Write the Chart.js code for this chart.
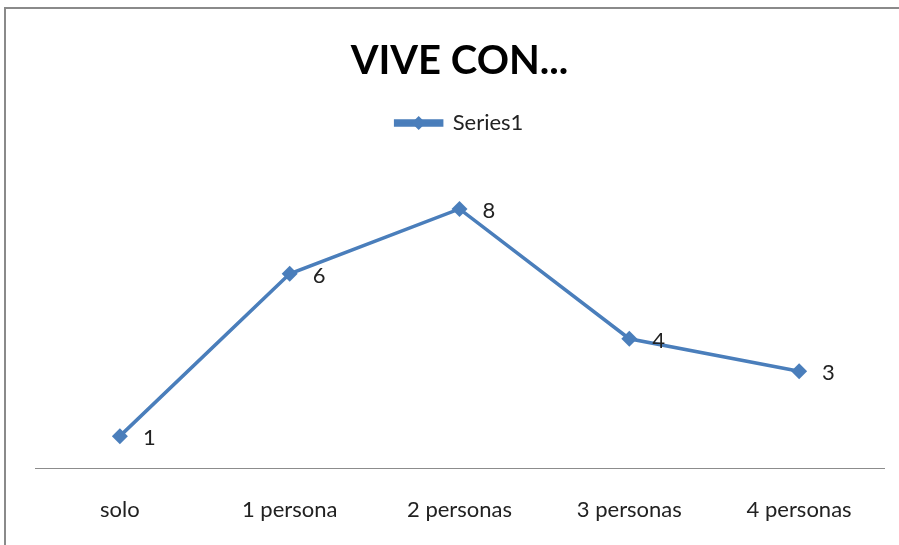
<!DOCTYPE html>
<html>
<head>
<meta charset="utf-8">
<title>VIVE CON...</title>
<script src="https://cdn.jsdelivr.net/npm/chart.js@4/dist/chart.umd.min.js"></script>
<style>
    html, body { margin: 0; padding: 0; background: #fff; }
    #wrap { position: relative; width: 899px; height: 545px; overflow: hidden; }
    #frame {
        position: absolute; left: 4px; top: 7px; width: 900px; height: 545px;
        border-left: 2px solid #8a8a8a; border-top: 2px solid #8a8a8a;
    }
    canvas { position: absolute; left: 0; top: 0; }
</style>
</head>
<body>
<div id="wrap">
    <div id="frame"></div>
    <canvas id="chart" width="899" height="545"></canvas>
</div>
<script>
// data
const categories = ['solo', '1 persona', '2 personas', '3 personas', '4 personas'];
const seriesName = 'Series1';
const seriesValues = [1, 6, 8, 4, 3];

const lineBlue = '#4a7ebb';
const fontFamily = 'Lato, "Open Sans", sans-serif';

// draws the value next to each point, like Excel's data labels
const valueLabels = {
    id: 'valueLabels',
    afterDatasetsDraw(chart) {
        const ctx = chart.ctx;
        const meta = chart.getDatasetMeta(0);
        ctx.save();
        ctx.font = '22px ' + fontFamily;
        ctx.fillStyle = '#222';
        ctx.textAlign = 'left';
        ctx.textBaseline = 'middle';
        meta.data.forEach((pt, i) => {
            ctx.fillText(String(seriesValues[i]), pt.x + 23, pt.y + 2);
        });
        ctx.restore();
    }
};

// puts a diamond on the legend line sample
const legendDiamond = {
    id: 'legendDiamond',
    afterDraw(chart) {
        const legend = chart.legend;
        if (!legend || !legend.legendHitBoxes) return;
        const ctx = chart.ctx;
        const boxW = legend.options.labels.boxWidth;
        legend.legendHitBoxes.forEach((hb) => {
            const cx = hb.left + boxW / 2;
            const cy = hb.top + hb.height / 2;
            const r = 7;
            ctx.save();
            ctx.fillStyle = lineBlue;
            ctx.beginPath();
            ctx.moveTo(cx, cy - r);
            ctx.lineTo(cx + r, cy);
            ctx.lineTo(cx, cy + r);
            ctx.lineTo(cx - r, cy);
            ctx.closePath();
            ctx.fill();
            ctx.restore();
        });
    }
};

new Chart(document.getElementById('chart'), {
    type: 'line',
    data: {
        labels: categories,
        datasets: [{
            label: seriesName,
            data: seriesValues,
            borderColor: lineBlue,
            backgroundColor: lineBlue,
            borderWidth: 3.5,
            pointStyle: 'rectRot',
            pointRadius: 8,
            pointBackgroundColor: lineBlue,
            pointBorderWidth: 0,
            tension: 0,
            fill: false,
        }],
    },
    options: {
        responsive: false,
        animation: false,
        devicePixelRatio: 1,
        layout: { padding: { left: 35, right: 15, top: 37, bottom: -6 } },
        plugins: {
            title: {
                display: true,
                text: 'VIVE CON...',
                color: '#000',
                font: { family: fontFamily, size: 40, weight: 'bold' },
                padding: { top: 0, bottom: 27 },
            },
            legend: {
                display: true,
                position: 'top',
                labels: {
                    color: '#222',
                    font: { family: fontFamily, size: 22 },
                    boxWidth: 46,
                    boxHeight: 4,
                    padding: 0,
                },
            },
            tooltip: { enabled: false },
        },
        scales: {
            x: {
                offset: true,
                grid: { display: false, drawTicks: false },
                border: { display: true, color: '#8c8c8c', width: 1 },
                ticks: {
                    color: '#222',
                    font: { family: fontFamily, size: 22 },
                    padding: 28,
                    maxRotation: 0,
                },
            },
            y: {
                display: false,
                min: 0,
                max: 10,
            },
        },
    },
    plugins: [valueLabels, legendDiamond],
});
</script>
</body>
</html>
